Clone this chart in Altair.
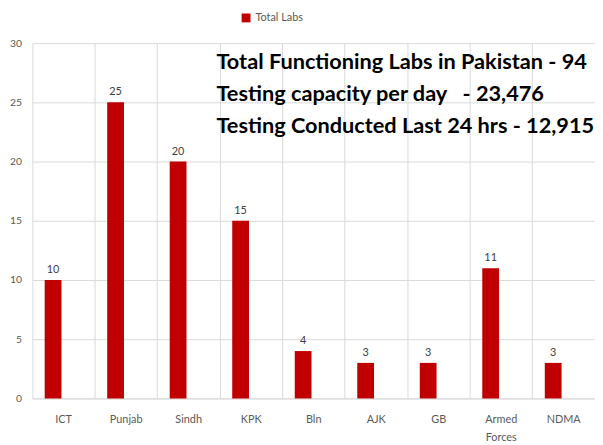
import altair as alt
import pandas as pd

categories = ["ICT", "Punjab", "Sindh", "KPK", "Bln", "AJK", "GB", "Armed Forces", "NDMA"]
total_labs = [10, 25, 20, 15, 4, 3, 3, 11, 3]
series_name = "Total Labs"
y_ticks = [0, 5, 10, 15, 20, 25, 30]
notes = [
    "Total Functioning Labs in Pakistan - 94",
    "Testing capacity per day\u00a0\u00a0\u00a0- 23,476",
    "Testing Conducted Last 24 hrs - 12,915",
]

df = pd.DataFrame({"region": categories, "labs": total_labs, "series": [series_name] * len(categories)})
notes_df = pd.DataFrame({"text": notes, "row": list(range(len(notes)))})

RED = "#C00000"
GREY = "#595959"
GRID = "#D9D9D9"
BAR_SHIFT = -10.7

x_enc = alt.X(
    "region:N",
    sort=categories,
    scale=alt.Scale(paddingInner=0, paddingOuter=0),
    axis=alt.Axis(
        title=None, labelAngle=0, labelColor=GREY, labelFontSize=11, labelFont="Lato",
        labelPadding=15, ticks=False, domainColor=GRID, grid=True, gridColor=GRID,
        bandPosition=0, labelExpr="split(datum.label, ' ')", labelLineHeight=19,
        labelBaseline="top",
    ),
)
y_enc = alt.Y(
    "labs:Q",
    scale=alt.Scale(domain=[0, 30], nice=False),
    axis=alt.Axis(
        title=None, values=y_ticks, labelColor=GREY, labelFontSize=10.5, labelFont="Lato",
        labelPadding=11, ticks=False, domain=False, gridColor=GRID,
    ),
)

bars = alt.Chart(df).mark_bar(width=17, xOffset=BAR_SHIFT).encode(
    x=x_enc,
    y=y_enc,
    color=alt.Color(
        "series:N",
        scale=alt.Scale(range=[RED]),
        legend=alt.Legend(
            title=None, orient="none", legendX=211, legendY=-31, symbolType="square",
            symbolSize=81, labelColor=GREY, labelFontSize=11, labelFont="Lato",
            symbolStrokeWidth=0,
        ),
    ),
)

labels = alt.Chart(df).mark_text(
    xOffset=BAR_SHIFT, dy=-5, baseline="bottom", fontSize=11, color="#404040", font="Lato"
).encode(x=alt.X("region:N", sort=categories), y=alt.Y("labs:Q"), text="labs:Q")

main = alt.layer(bars, labels)

note_text = alt.Chart(notes_df).mark_text(
    align="left", baseline="middle", fontSize=22, fontWeight="bold", font="Lato", color="black"
).encode(
    x=alt.value(186.5),
    y=alt.Y("row:O", scale=alt.Scale(type="point", range=[19.3, 84.3], padding=0), axis=None),
    text="text:N",
)

chart = alt.layer(main, note_text).resolve_scale(y="independent").properties(
    width=570,
    height=360,
    autosize=alt.AutoSizeParams(type="none"),
    padding={"left": 24.7, "top": 32.7, "right": 0, "bottom": 44},
).configure_view(stroke=None)

chart.save("out.html", embed_options={"renderer": "svg", "actions": False})
